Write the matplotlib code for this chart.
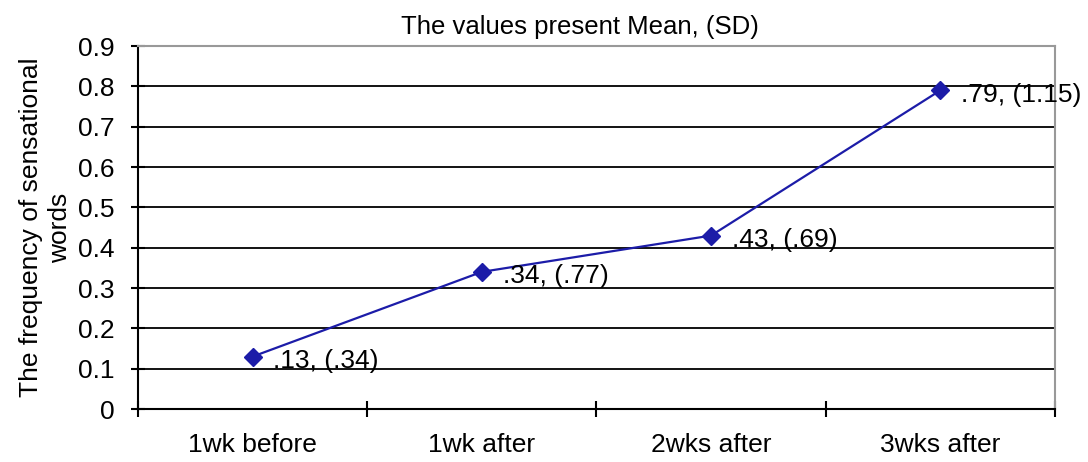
import matplotlib.pyplot as plt

plt.rcParams['font.family'] = ['Liberation Sans', 'DejaVu Sans']

categories = ['1wk before', '1wk after', '2wks after', '3wks after']
means = [0.13, 0.34, 0.43, 0.79]
labels = ['.13, (.34)', '.34, (.77)', '.43, (.69)', '.79, (1.15)']
yticks = [0, 0.1, 0.2, 0.3, 0.4, 0.5, 0.6, 0.7, 0.8, 0.9]

fig = plt.figure(figsize=(10.88, 4.62), dpi=100)
ax = fig.add_axes([0.1268, 0.1147, 0.8428, 0.7857])

x = list(range(len(categories)))
ax.plot(x, means, color='#1c1ca8', lw=1.6, marker='D', ms=9.5, zorder=3)
for xi, yi, lab in zip(x, means, labels):
    ax.annotate(lab, (xi, yi), xytext=(15, -3), textcoords='offset points',
                ha='left', va='center', fontsize=19, zorder=4)

ax.set_xlim(-0.5, 3.5)
ax.set_ylim(0, 0.9)
ax.set_yticks(yticks)
ax.set_yticklabels(['0' if v == 0 else f'{v:.1f}' for v in yticks], fontsize=19)
for v in yticks[1:-1]:
    ax.axhline(v, color='black', lw=1.3, zorder=1)

ax.set_xticks([i - 0.5 for i in range(len(categories) + 1)])
ax.set_xticklabels([])
ax.set_xticks(x, minor=True)
ax.set_xticklabels(categories, minor=True, fontsize=19)
ax.tick_params(axis='x', which='minor', length=0, pad=17)
ax.tick_params(axis='x', which='major', direction='inout', length=12, width=1.5)
ax.tick_params(axis='y', direction='inout', length=10, width=1.5, pad=12)

ax.spines['left'].set_linewidth(1.5)
ax.spines['bottom'].set_linewidth(1.5)
ax.spines['top'].set_color('#999999')
ax.spines['right'].set_color('#999999')
ax.spines['top'].set_linewidth(1.5)
ax.spines['right'].set_linewidth(1.5)

ax.set_title('The values present Mean, (SD)', fontsize=18.5, pad=9, x=0.482)
ax.set_ylabel('The frequency of sensational\nwords', fontsize=19, labelpad=4, linespacing=1.25)

fig.savefig('out.png', dpi=100)
